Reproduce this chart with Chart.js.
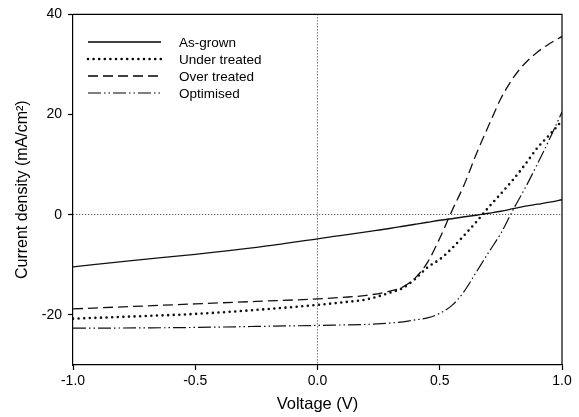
<!DOCTYPE html>
<html>
<head>
<meta charset="utf-8">
<script src="https://cdn.jsdelivr.net/npm/chart.js@4"></script>
<style>
  html, body { margin: 0; padding: 0; background: #fff; }
  canvas { display: block; }
</style>
</head>
<body>
<canvas id="jv" width="579" height="417"></canvas>
<script>
// voltaje compartido por las cuatro curvas
const voltaje = [-1, -0.75, -0.5, -0.25, 0, 0.1, 0.2, 0.3, 0.35, 0.4, 0.45, 0.5,
                 0.55, 0.6, 0.65, 0.7, 0.75, 0.8, 0.85, 0.9, 0.95, 1.0];

const as_grown     = [-10.4, -9.1, -7.9, -6.5, -4.8, -4.1, -3.4, -2.7, -2.3, -1.9, -1.5, -1.1,
                      -0.8, -0.4, -0.1, 0.3, 0.7, 1.2, 1.7, 2.1, 2.5, 3.0];
const under_treated = [-20.75, -20.3, -19.8, -19.0, -18.0, -17.5, -16.9, -15.5, -14.6, -12.8, -10.5, -8.9,
                      -6.7, -4.1, -1.4, 1.5, 4.2, 7.0, 10.1, 13.4, 16.0, 18.8];
const over_treated = [-18.8, -18.3, -17.8, -17.3, -16.8, -16.5, -16.1, -15.2, -14.4, -12.6, -9.5, -4.7,
                      0.8, 6.0, 12.2, 17.8, 23.2, 27.3, 30.3, 32.5, 34.2, 35.6];
const optimised    = [-22.65, -22.6, -22.5, -22.3, -22.1, -22.0, -21.9, -21.6, -21.4, -21.0, -20.6, -19.7,
                      -18.1, -15.3, -11.4, -7.5, -3.7, 1.0, 5.4, 10.2, 15.2, 20.5];

const etiquetas = ['As-grown', 'Under treated', 'Over treated', 'Optimised'];
const ticks_x = [-1, -0.5, 0, 0.5, 1];
const ticks_y = [-20, 0, 20, 40];

const fuente = "'Liberation Sans', Arial, sans-serif";

function puntos(ys) {
  return voltaje.map((v, i) => ({ x: v, y: ys[i] }));
}

const estilos = [
  { dash: [], width: 1.3, cap: 'butt' },
  { dash: [0, 5.6], width: 2.6, cap: 'round' },
  { dash: [10, 5], width: 1.3, cap: 'butt' },
  { dash: [13, 3, 1.5, 3, 1.5, 3], width: 1.2, cap: 'butt' }
];

// marco superior/derecho y leyenda dentro del area
const marco_y_leyenda = {
  id: 'marco_y_leyenda',
  afterDraw(chart) {
    const { ctx, chartArea: a } = chart;
    ctx.save();
    ctx.strokeStyle = '#000';
    ctx.lineWidth = 1.2;
    ctx.beginPath();
    ctx.moveTo(a.left, a.top);
    ctx.lineTo(a.right, a.top);
    ctx.lineTo(a.right, a.bottom);
    ctx.stroke();

    ctx.font = '13.5px ' + fuente;
    ctx.textBaseline = 'middle';
    ctx.fillStyle = '#000';
    chart.data.datasets.forEach((ds, i) => {
      const y = 42 + i * 17;
      ctx.beginPath();
      ctx.setLineDash(ds.borderDash);
      ctx.lineCap = ds.borderCapStyle;
      ctx.lineWidth = ds.borderWidth;
      ctx.moveTo(88, y);
      ctx.lineTo(161, y);
      ctx.stroke();
      ctx.setLineDash([]);
      ctx.fillText(ds.label, 179, y + 1);
    });
    ctx.restore();
  }
};

const ctx = document.getElementById('jv').getContext('2d');
new Chart(ctx, {
  type: 'line',
  data: {
    datasets: [as_grown, under_treated, over_treated, optimised].map((serie, i) => ({
      label: etiquetas[i],
      data: puntos(serie),
      borderColor: '#111',
      borderWidth: estilos[i].width,
      borderDash: estilos[i].dash,
      borderCapStyle: estilos[i].cap,
      pointRadius: 0,
      fill: false,
      cubicInterpolationMode: 'monotone'
    }))
  },
  options: {
    responsive: false,
    animation: false,
    devicePixelRatio: 1,
    layout: { padding: { top: 12, right: 17, left: 0, bottom: 0 } },
    plugins: {
      legend: { display: false },
      tooltip: { enabled: false }
    },
    scales: {
      x: {
        type: 'linear',
        min: -1, max: 1,
        afterFit: s => { s.height = 52; },
        afterBuildTicks: s => { s.ticks = ticks_x.map(v => ({ value: v })); },
        ticks: {
          color: '#000',
          font: { family: fuente, size: 14 },
          padding: 3,
          maxRotation: 0,
          callback: v => v.toFixed(1)
        },
        grid: {
          color: c => (c.tick && c.tick.value === 0) ? '#333' : 'rgba(0,0,0,0)',
          lineWidth: 1,
          tickLength: 5,
          tickColor: '#000',
          tickWidth: 1.2
        },
        border: { color: '#000', width: 1.2, dash: [1, 2] },
        title: {
          display: true,
          text: 'Voltage (V)',
          color: '#000',
          font: { family: fuente, size: 16.5 },
          padding: { top: 0, bottom: 3 }
        }
      },
      y: {
        type: 'linear',
        min: -30, max: 40,
        afterFit: s => { s.width = 73; },
        afterBuildTicks: s => { s.ticks = ticks_y.map(v => ({ value: v })); },
        ticks: {
          color: '#000',
          font: { family: fuente, size: 14 },
          padding: 6
        },
        grid: {
          color: c => (c.tick && c.tick.value === 0) ? '#333' : 'rgba(0,0,0,0)',
          lineWidth: 1,
          tickLength: 5,
          tickColor: '#000',
          tickWidth: 1.2
        },
        border: { color: '#000', width: 1.2, dash: [1, 2] },
        title: {
          display: true,
          text: 'Current density (mA/cm²)',
          color: '#000',
          font: { family: fuente, size: 16 },
          padding: { top: 13, bottom: 0 }
        }
      }
    }
  },
  plugins: [marco_y_leyenda]
});
</script>
</body>
</html>
